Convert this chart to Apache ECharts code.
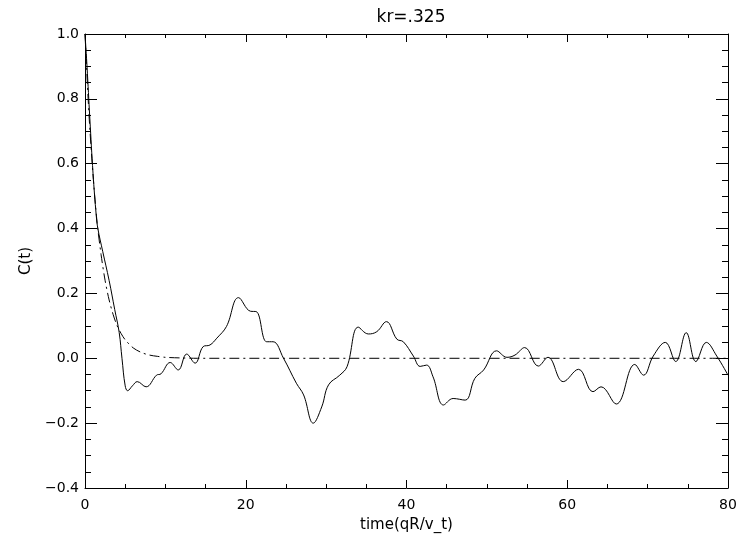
<!DOCTYPE html>
<html>
<head>
<meta charset="utf-8">
<script src="https://cdn.jsdelivr.net/npm/echarts@6/dist/echarts.min.js"></script>
<style>
  html, body { margin: 0; padding: 0; background: #fff; }
  #chart { width: 755px; height: 542px; }
</style>
</head>
<body>
<div id="chart"></div>
<script>
// Correlation function C(t) for kr = .325
const titleText = 'kr=.325';
const xName = 'time(qR/v_t)';
const yName = 'C(t)';

// Simulated correlation (solid): time values and C(t)
const simTime = [0, 0.25, 0.6, 1.0, 1.4, 1.6, 2.2, 3.0, 3.7, 4.25, 4.6, 5.0, 5.3, 5.9, 6.5, 7.6, 8.9, 9.45,
  10.6, 11.6, 12.65, 13.7, 14.7, 15.55, 16.4, 17.6, 19.1, 20.6, 21.3, 22.6, 23.4, 24.7, 26.3, 27.2, 28.4,
  29.45, 30.3, 31.7, 32.6, 34.0, 35.25, 36.3, 37.5, 38.8, 39.6, 40.85, 41.7, 42.5, 43.3, 44.6, 45.8, 47.3,
  48.5, 49.6, 51.2, 52.5, 53.5, 54.7, 56.4, 57.6, 59.5, 61.4, 63.2, 64.2, 66.1, 68.4, 69.5, 70.7, 72.2,
  73.5, 74.8, 76.0, 77.3, 78.6, 80.0];
const simC = [1.0, 0.90, 0.74, 0.57, 0.44, 0.40, 0.33, 0.24, 0.15, 0.08, 0.0, -0.085, -0.10, -0.085, -0.072,
  -0.088, -0.052, -0.048, -0.013, -0.036, 0.013, -0.015, 0.036, 0.041, 0.062, 0.098, 0.187, 0.145, 0.144,
  0.051, 0.051, 0.0, -0.077, -0.113, -0.20, -0.15, -0.082, -0.052, -0.026, 0.096, 0.075, 0.082, 0.113,
  0.059, 0.051, 0.007, -0.025, -0.021, -0.057, -0.144, -0.124, -0.129, -0.062, -0.036, 0.023, 0.003,
  0.010, 0.033, -0.024, 0.003, -0.072, -0.034, -0.103, -0.088, -0.141, -0.019, -0.052, 0.007, 0.049,
  -0.010, 0.079, -0.010, 0.049, 0.007, -0.052];

// Model decay (dash-dot)
const modelTime = [0, 0.5, 1.0, 1.5, 2.0, 2.5, 3.0, 3.5, 4.0, 4.5, 5.0, 6.0, 7.0, 8.0, 9.0, 10.0, 12.0, 14.0, 80.0];
const modelC = [1.0, 0.75, 0.565, 0.42, 0.32, 0.24, 0.18, 0.135, 0.10, 0.076, 0.057, 0.032, 0.018, 0.010, 0.006, 0.003, 0.001, 0.0, 0.0];

const xTicks = { min: 0, max: 80, interval: 20 };
const yTicks = { min: -0.4, max: 1.0, interval: 0.2 };

const pair = (xs, ys) => xs.map((x, i) => [x, ys[i]]);
const fmtY = v => (Math.abs(v) < 1e-9 ? 0 : v).toFixed(1).replace('-', '\u2212');

const FONT = 'DejaVu Sans';
const axisLine = { show: true, onZero: false, lineStyle: { color: '#000', width: 1 } };

function xAxisCfg(pos, labels) {
  return {
    type: 'value', position: pos, min: xTicks.min, max: xTicks.max, interval: xTicks.interval,
    axisLine, splitLine: { show: false },
    axisTick: { show: true, inside: true, length: 8, lineStyle: { color: '#000' } },
    minorTick: { show: true, splitNumber: 4, length: 4, lineStyle: { color: '#000' } },
    axisLabel: { show: labels, color: '#000', fontFamily: FONT, fontSize: 14, margin: 10 },
    name: labels ? xName : '', nameLocation: 'middle', nameGap: 30,
    nameTextStyle: { color: '#000', fontFamily: FONT, fontSize: 15 }
  };
}
function yAxisCfg(pos, labels) {
  return {
    type: 'value', position: pos, min: yTicks.min, max: yTicks.max, interval: yTicks.interval,
    axisLine, splitLine: { show: false },
    axisTick: { show: true, inside: true, length: 12, lineStyle: { color: '#000' } },
    minorTick: { show: true, splitNumber: 4, length: 6, lineStyle: { color: '#000' } },
    axisLabel: { show: labels, color: '#000', fontFamily: FONT, fontSize: 14, margin: 6, formatter: fmtY },
    name: labels ? yName : '', nameLocation: 'middle', nameGap: 50,
    nameTextStyle: { color: '#000', fontFamily: FONT, fontSize: 15 }
  };
}

const chart = echarts.init(document.getElementById('chart'), null, { renderer: 'canvas' });
chart.setOption({
  animation: false,
  backgroundColor: '#fff',
  title: {
    text: titleText, left: 406, top: 4, textAlign: 'center',
    textStyle: { color: '#000', fontFamily: FONT, fontSize: 17, fontWeight: 'normal' }
  },
  grid: { left: 85, right: 27, top: 34, bottom: 54 },
  xAxis: [xAxisCfg('bottom', true), xAxisCfg('top', false)],
  yAxis: [yAxisCfg('left', true), yAxisCfg('right', false)],
  series: [
    {
      type: 'line', xAxisIndex: 0, yAxisIndex: 0, data: pair(simTime, simC),
      showSymbol: false, smooth: 0.4, lineStyle: { color: '#000', width: 1 }
    },
    {
      type: 'line', xAxisIndex: 0, yAxisIndex: 0, data: pair(modelTime, modelC),
      showSymbol: false, smooth: 0.3, lineStyle: { color: '#000', width: 1, type: [10, 4, 2, 4] }
    }
  ]
});
</script>
</body>
</html>
